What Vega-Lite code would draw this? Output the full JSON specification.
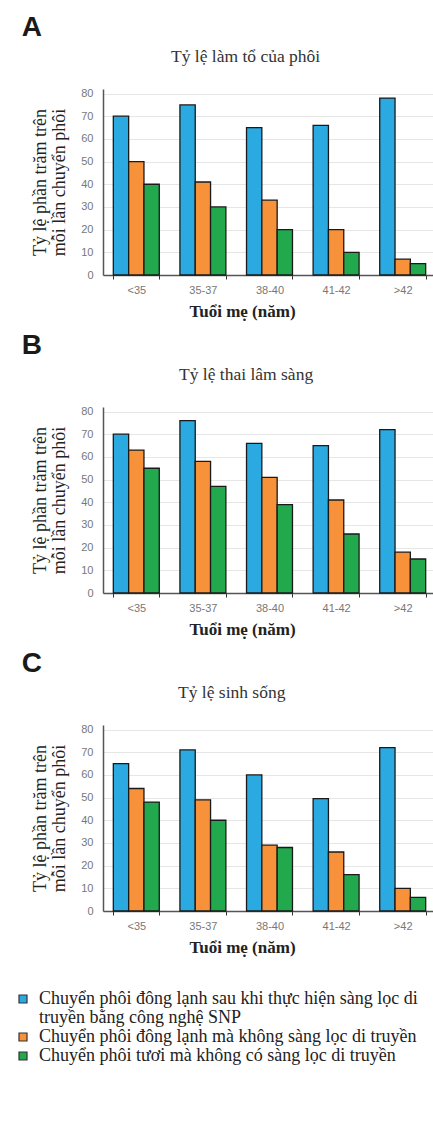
{
  "$schema": "https://vega.github.io/schema/vega-lite/v6.json",
  "padding": {"left": 14, "top": 14, "right": 0, "bottom": 0},
  "background": "white",
  "data": {"values": [
    {"panel": "A", "age": "<35", "group": "Chuyển phôi đông lạnh sau khi thực hiện sàng lọc di truyền bằng công nghệ SNP", "value": 70},
    {"panel": "A", "age": "35-37", "group": "Chuyển phôi đông lạnh sau khi thực hiện sàng lọc di truyền bằng công nghệ SNP", "value": 75},
    {"panel": "A", "age": "38-40", "group": "Chuyển phôi đông lạnh sau khi thực hiện sàng lọc di truyền bằng công nghệ SNP", "value": 65},
    {"panel": "A", "age": "41-42", "group": "Chuyển phôi đông lạnh sau khi thực hiện sàng lọc di truyền bằng công nghệ SNP", "value": 66},
    {"panel": "A", "age": ">42", "group": "Chuyển phôi đông lạnh sau khi thực hiện sàng lọc di truyền bằng công nghệ SNP", "value": 78},
    {"panel": "A", "age": "<35", "group": "Chuyển phôi đông lạnh mà không sàng lọc di truyền", "value": 50},
    {"panel": "A", "age": "35-37", "group": "Chuyển phôi đông lạnh mà không sàng lọc di truyền", "value": 41},
    {"panel": "A", "age": "38-40", "group": "Chuyển phôi đông lạnh mà không sàng lọc di truyền", "value": 33},
    {"panel": "A", "age": "41-42", "group": "Chuyển phôi đông lạnh mà không sàng lọc di truyền", "value": 20},
    {"panel": "A", "age": ">42", "group": "Chuyển phôi đông lạnh mà không sàng lọc di truyền", "value": 7},
    {"panel": "A", "age": "<35", "group": "Chuyển phôi tươi mà không có sàng lọc di truyền", "value": 40},
    {"panel": "A", "age": "35-37", "group": "Chuyển phôi tươi mà không có sàng lọc di truyền", "value": 30},
    {"panel": "A", "age": "38-40", "group": "Chuyển phôi tươi mà không có sàng lọc di truyền", "value": 20},
    {"panel": "A", "age": "41-42", "group": "Chuyển phôi tươi mà không có sàng lọc di truyền", "value": 10},
    {"panel": "A", "age": ">42", "group": "Chuyển phôi tươi mà không có sàng lọc di truyền", "value": 5},
    {"panel": "B", "age": "<35", "group": "Chuyển phôi đông lạnh sau khi thực hiện sàng lọc di truyền bằng công nghệ SNP", "value": 70},
    {"panel": "B", "age": "35-37", "group": "Chuyển phôi đông lạnh sau khi thực hiện sàng lọc di truyền bằng công nghệ SNP", "value": 76},
    {"panel": "B", "age": "38-40", "group": "Chuyển phôi đông lạnh sau khi thực hiện sàng lọc di truyền bằng công nghệ SNP", "value": 66},
    {"panel": "B", "age": "41-42", "group": "Chuyển phôi đông lạnh sau khi thực hiện sàng lọc di truyền bằng công nghệ SNP", "value": 65},
    {"panel": "B", "age": ">42", "group": "Chuyển phôi đông lạnh sau khi thực hiện sàng lọc di truyền bằng công nghệ SNP", "value": 72},
    {"panel": "B", "age": "<35", "group": "Chuyển phôi đông lạnh mà không sàng lọc di truyền", "value": 63},
    {"panel": "B", "age": "35-37", "group": "Chuyển phôi đông lạnh mà không sàng lọc di truyền", "value": 58},
    {"panel": "B", "age": "38-40", "group": "Chuyển phôi đông lạnh mà không sàng lọc di truyền", "value": 51},
    {"panel": "B", "age": "41-42", "group": "Chuyển phôi đông lạnh mà không sàng lọc di truyền", "value": 41},
    {"panel": "B", "age": ">42", "group": "Chuyển phôi đông lạnh mà không sàng lọc di truyền", "value": 18},
    {"panel": "B", "age": "<35", "group": "Chuyển phôi tươi mà không có sàng lọc di truyền", "value": 55},
    {"panel": "B", "age": "35-37", "group": "Chuyển phôi tươi mà không có sàng lọc di truyền", "value": 47},
    {"panel": "B", "age": "38-40", "group": "Chuyển phôi tươi mà không có sàng lọc di truyền", "value": 39},
    {"panel": "B", "age": "41-42", "group": "Chuyển phôi tươi mà không có sàng lọc di truyền", "value": 26},
    {"panel": "B", "age": ">42", "group": "Chuyển phôi tươi mà không có sàng lọc di truyền", "value": 15},
    {"panel": "C", "age": "<35", "group": "Chuyển phôi đông lạnh sau khi thực hiện sàng lọc di truyền bằng công nghệ SNP", "value": 65},
    {"panel": "C", "age": "35-37", "group": "Chuyển phôi đông lạnh sau khi thực hiện sàng lọc di truyền bằng công nghệ SNP", "value": 71},
    {"panel": "C", "age": "38-40", "group": "Chuyển phôi đông lạnh sau khi thực hiện sàng lọc di truyền bằng công nghệ SNP", "value": 60},
    {"panel": "C", "age": "41-42", "group": "Chuyển phôi đông lạnh sau khi thực hiện sàng lọc di truyền bằng công nghệ SNP", "value": 49.5},
    {"panel": "C", "age": ">42", "group": "Chuyển phôi đông lạnh sau khi thực hiện sàng lọc di truyền bằng công nghệ SNP", "value": 72},
    {"panel": "C", "age": "<35", "group": "Chuyển phôi đông lạnh mà không sàng lọc di truyền", "value": 54},
    {"panel": "C", "age": "35-37", "group": "Chuyển phôi đông lạnh mà không sàng lọc di truyền", "value": 49},
    {"panel": "C", "age": "38-40", "group": "Chuyển phôi đông lạnh mà không sàng lọc di truyền", "value": 29},
    {"panel": "C", "age": "41-42", "group": "Chuyển phôi đông lạnh mà không sàng lọc di truyền", "value": 26},
    {"panel": "C", "age": ">42", "group": "Chuyển phôi đông lạnh mà không sàng lọc di truyền", "value": 10},
    {"panel": "C", "age": "<35", "group": "Chuyển phôi tươi mà không có sàng lọc di truyền", "value": 48},
    {"panel": "C", "age": "35-37", "group": "Chuyển phôi tươi mà không có sàng lọc di truyền", "value": 40},
    {"panel": "C", "age": "38-40", "group": "Chuyển phôi tươi mà không có sàng lọc di truyền", "value": 28},
    {"panel": "C", "age": "41-42", "group": "Chuyển phôi tươi mà không có sàng lọc di truyền", "value": 16},
    {"panel": "C", "age": ">42", "group": "Chuyển phôi tươi mà không có sàng lọc di truyền", "value": 6}
  ]},
  "spacing": 13,
  "vconcat": [
    {
      "title": {"text": "A", "anchor": "start", "frame": "bounds", "dx": -10, "offset": 6},
      "vconcat": [{
        "title": {"text": "Tỷ lệ làm tổ của phôi", "anchor": "start", "frame": "group", "dx": 68, "offset": 22, "font": "Liberation Serif", "fontSize": 17.5, "fontWeight": "normal", "color": "#333"},
        "width": 333, "height": 186,
        "transform": [{"filter": "datum.panel == 'A'"}],
        "mark": {"type": "bar", "stroke": "#1a1a1a", "strokeWidth": 1.3},
        "encoding": {
          "x": {"field": "age", "type": "nominal", "sort": ["<35", "35-37", "38-40", "41-42", ">42"], "scale": {"paddingInner": 0.31, "paddingOuter": 0.155}, "axis": {"title": "Tuổi mẹ (năm)"}},
          "xOffset": {"field": "group", "type": "nominal", "sort": ["Chuyển phôi đông lạnh sau khi thực hiện sàng lọc di truyền bằng công nghệ SNP", "Chuyển phôi đông lạnh mà không sàng lọc di truyền", "Chuyển phôi tươi mà không có sàng lọc di truyền"], "scale": {"paddingInner": 0}},
          "y": {"field": "value", "type": "quantitative", "scale": {"domain": [0, 82], "nice": false}, "axis": {"values": [0, 10, 20, 30, 40, 50, 60, 70, 80], "title": ["Tỷ lệ phần trăm trên", "mỗi lần chuyển phôi"]}},
          "color": {"field": "group", "type": "nominal", "scale": {"domain": ["Chuyển phôi đông lạnh sau khi thực hiện sàng lọc di truyền bằng công nghệ SNP", "Chuyển phôi đông lạnh mà không sàng lọc di truyền", "Chuyển phôi tươi mà không có sàng lọc di truyền"], "range": ["#2BAAE2", "#F7923A", "#22A84D"]}, "legend": {"labelExpr": "datum.label == 'Chuyển phôi đông lạnh sau khi thực hiện sàng lọc di truyền bằng công nghệ SNP' ? ['Chuyển phôi đông lạnh sau khi thực hiện sàng lọc di', 'truyền bằng  công nghệ SNP'] : datum.label", "encode": {"labels": {"update": {"lineHeight": {"value": 19}}}}}}
        }
      }]
    },
    {
      "title": {"text": "B", "anchor": "start", "frame": "bounds", "dx": -10, "offset": 6},
      "vconcat": [{
        "title": {"text": "Tỷ lệ thai lâm sàng", "anchor": "start", "frame": "group", "dx": 76, "offset": 22, "font": "Liberation Serif", "fontSize": 17.5, "fontWeight": "normal", "color": "#333"},
        "width": 333, "height": 186,
        "transform": [{"filter": "datum.panel == 'B'"}],
        "mark": {"type": "bar", "stroke": "#1a1a1a", "strokeWidth": 1.3},
        "encoding": {
          "x": {"field": "age", "type": "nominal", "sort": ["<35", "35-37", "38-40", "41-42", ">42"], "scale": {"paddingInner": 0.31, "paddingOuter": 0.155}, "axis": {"title": "Tuổi mẹ (năm)"}},
          "xOffset": {"field": "group", "type": "nominal", "sort": ["Chuyển phôi đông lạnh sau khi thực hiện sàng lọc di truyền bằng công nghệ SNP", "Chuyển phôi đông lạnh mà không sàng lọc di truyền", "Chuyển phôi tươi mà không có sàng lọc di truyền"], "scale": {"paddingInner": 0}},
          "y": {"field": "value", "type": "quantitative", "scale": {"domain": [0, 82], "nice": false}, "axis": {"values": [0, 10, 20, 30, 40, 50, 60, 70, 80], "title": ["Tỷ lệ phần trăm trên", "mỗi lần chuyển phôi"]}},
          "color": {"field": "group", "type": "nominal", "scale": {"domain": ["Chuyển phôi đông lạnh sau khi thực hiện sàng lọc di truyền bằng công nghệ SNP", "Chuyển phôi đông lạnh mà không sàng lọc di truyền", "Chuyển phôi tươi mà không có sàng lọc di truyền"], "range": ["#2BAAE2", "#F7923A", "#22A84D"]}, "legend": {"labelExpr": "datum.label == 'Chuyển phôi đông lạnh sau khi thực hiện sàng lọc di truyền bằng công nghệ SNP' ? ['Chuyển phôi đông lạnh sau khi thực hiện sàng lọc di', 'truyền bằng  công nghệ SNP'] : datum.label", "encode": {"labels": {"update": {"lineHeight": {"value": 19}}}}}}
        }
      }]
    },
    {
      "title": {"text": "C", "anchor": "start", "frame": "bounds", "dx": -10, "offset": 6},
      "vconcat": [{
        "title": {"text": "Tỷ lệ sinh sống", "anchor": "start", "frame": "group", "dx": 75, "offset": 22, "font": "Liberation Serif", "fontSize": 17.5, "fontWeight": "normal", "color": "#333"},
        "width": 333, "height": 186,
        "transform": [{"filter": "datum.panel == 'C'"}],
        "mark": {"type": "bar", "stroke": "#1a1a1a", "strokeWidth": 1.3},
        "encoding": {
          "x": {"field": "age", "type": "nominal", "sort": ["<35", "35-37", "38-40", "41-42", ">42"], "scale": {"paddingInner": 0.31, "paddingOuter": 0.155}, "axis": {"title": "Tuổi mẹ (năm)"}},
          "xOffset": {"field": "group", "type": "nominal", "sort": ["Chuyển phôi đông lạnh sau khi thực hiện sàng lọc di truyền bằng công nghệ SNP", "Chuyển phôi đông lạnh mà không sàng lọc di truyền", "Chuyển phôi tươi mà không có sàng lọc di truyền"], "scale": {"paddingInner": 0}},
          "y": {"field": "value", "type": "quantitative", "scale": {"domain": [0, 82], "nice": false}, "axis": {"values": [0, 10, 20, 30, 40, 50, 60, 70, 80], "title": ["Tỷ lệ phần trăm trên", "mỗi lần chuyển phôi"]}},
          "color": {"field": "group", "type": "nominal", "scale": {"domain": ["Chuyển phôi đông lạnh sau khi thực hiện sàng lọc di truyền bằng công nghệ SNP", "Chuyển phôi đông lạnh mà không sàng lọc di truyền", "Chuyển phôi tươi mà không có sàng lọc di truyền"], "range": ["#2BAAE2", "#F7923A", "#22A84D"]}, "legend": {"labelExpr": "datum.label == 'Chuyển phôi đông lạnh sau khi thực hiện sàng lọc di truyền bằng công nghệ SNP' ? ['Chuyển phôi đông lạnh sau khi thực hiện sàng lọc di', 'truyền bằng  công nghệ SNP'] : datum.label", "encode": {"labels": {"update": {"lineHeight": {"value": 19}}}}}}
        }
      }]
    }
  ],
  "resolve": {"scale": {"color": "shared"}},
  "config": {
    "view": {"stroke": null},
    "title": {"font": "Liberation Sans", "fontSize": 28, "fontWeight": "bold", "color": "#1a1a1a"},
    "concat": {"spacing": 0},
    "axis": {"labelFont": "Liberation Sans", "labelFontSize": 11, "labelColor": "#777", "titleFont": "Liberation Serif", "titleColor": "#222"},
    "axisX": {"domainColor": "#555", "domainWidth": 1.5, "tickBand": "extent", "tickColor": "#333", "tickSize": 4, "labelAngle": 0, "labelPadding": 5, "titleFontSize": 17, "titleFontWeight": "bold", "titlePadding": 8, "titleX": 139, "grid": false},
    "axisY": {"domainColor": "#555", "domainWidth": 1.5, "ticks": false, "labelPadding": 10, "gridColor": "#e6e6e6", "titleFontSize": 18, "titleFontWeight": "normal", "titleLineHeight": 19, "titlePadding": 12},
    "legend": {"orient": "none", "legendX": -89, "legendY": 901, "direction": "vertical", "title": null, "labelFont": "Liberation Serif", "labelFontSize": 18, "labelColor": "#222", "labelLimit": 420, "symbolType": "square", "symbolSize": 64, "symbolStrokeColor": "#333", "symbolStrokeWidth": 1.2, "rowPadding": 1, "labelOffset": 7}
  }
}
